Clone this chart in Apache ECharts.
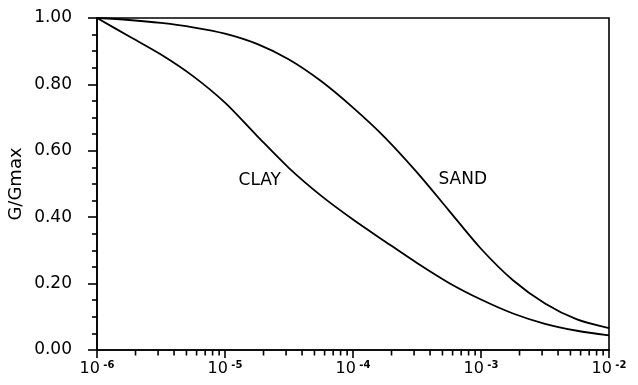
<!DOCTYPE html>
<html>
<head>
<meta charset="utf-8">
<script src="https://cdn.jsdelivr.net/npm/echarts@6/dist/echarts.min.js"></script>
<style>html,body{margin:0;padding:0;background:#fff;}#c{width:638px;height:385px;}</style>
</head>
<body>
<div id="c"></div>
<script>
// Shear strain (log scale), read at quarter-decade steps
const strain = [1e-6, 1.778e-6, 3.162e-6, 5.623e-6, 1e-5, 1.778e-5, 3.162e-5, 5.623e-5, 1e-4, 1.778e-4, 3.162e-4, 5.623e-4, 1e-3, 1.778e-3, 3.162e-3, 5.623e-3, 1e-2];
const clay   = [1.00, 0.945, 0.89, 0.825, 0.745, 0.645, 0.548, 0.465, 0.393, 0.327, 0.262, 0.202, 0.152, 0.11, 0.079, 0.058, 0.044];
const sand   = [1.00, 0.994, 0.985, 0.972, 0.953, 0.922, 0.875, 0.81, 0.73, 0.64, 0.535, 0.42, 0.305, 0.21, 0.14, 0.092, 0.066];
const xMinorTicks = [2e-6,3e-6,4e-6,5e-6,6e-6,7e-6,8e-6,9e-6,
                     2e-5,3e-5,4e-5,5e-5,6e-5,7e-5,8e-5,9e-5,
                     2e-4,3e-4,4e-4,5e-4,6e-4,7e-4,8e-4,9e-4,
                     2e-3,3e-3,4e-3,5e-3,6e-3,7e-3,8e-3,9e-3];
const curveLabels = [
  { name: 'CLAY', x: 1.87e-5, y: 0.51 },
  { name: 'SAND', x: 7.2e-4, y: 0.513 }
];
const yName = 'G/Gmax';

const chart = echarts.init(document.getElementById('c'));
const font = 'DejaVu Sans';
function expOf(v){
  return String(Math.round(Math.log10(v)));
}
chart.setOption({
  animation: false,
  backgroundColor: '#fff',
  grid: { left: 97, right: 29, top: 18, bottom: 35, show: true, borderColor: '#000', borderWidth: 1.6,
          containLabel: false, outerBoundsMode: 'none' },
  xAxis: {
    type: 'log', logBase: 10, min: 1e-6, max: 1e-2,
    axisLine: { show: true, lineStyle: { color: '#000', width: 1.6 } },
    axisTick: { show: true, length: 8, lineStyle: { color: '#000', width: 1.6 } },
    splitLine: { show: false },
    axisLabel: {
      margin: 10,
      formatter: function (v) { return '{a|10} {b|' + expOf(v) + '}'; },
      rich: {
        a: { fontFamily: font, fontSize: 16, color: '#000' },
        b: { fontFamily: font, fontSize: 10, color: '#000', fontWeight: 'bold', verticalAlign: 'top', padding: [0,0,8,0] }
      }
    }
  },
  yAxis: {
    type: 'value', min: 0, max: 1, interval: 0.2,
    name: yName, nameLocation: 'middle', nameGap: 72, nameMoveOverlap: false,
    nameTextStyle: { fontFamily: font, fontSize: 18, color: '#000' },
    axisLine: { show: true, lineStyle: { color: '#000', width: 1.6 } },
    axisTick: { show: true, length: 9, lineStyle: { color: '#000', width: 1.6 } },
    minorTick: { show: true, splitNumber: 4, length: 5, lineStyle: { color: '#000', width: 1.6 } },
    splitLine: { show: false },
    axisLabel: { fontFamily: font, fontSize: 17, color: '#000', margin: 25,
      formatter: function (v) { return v.toFixed(2); } }
  },
  series: [
    { name: 'CLAY', type: 'line', data: strain.map((x, i) => [x, clay[i]]), smooth: 0.3, symbol: 'none',
      lineStyle: { color: '#000', width: 1.8 } },
    { name: 'SAND', type: 'line', data: strain.map((x, i) => [x, sand[i]]), smooth: 0.3, symbol: 'none',
      lineStyle: { color: '#000', width: 1.8 } },
    { type: 'scatter', symbolSize: 0, itemStyle: { opacity: 1 },
      data: curveLabels.map(d => ({ value: [d.x, d.y], name: d.name })),
      label: { show: true, position: 'inside', formatter: '{b}', fontFamily: font, fontSize: 17,
               color: '#000', opacity: 1, textBorderWidth: 0 } },
    { type: 'scatter', clip: false, symbol: 'rect', symbolSize: [1.6, 5], symbolOffset: [0, 3],
      itemStyle: { color: '#000', opacity: 1 }, silent: true,
      data: xMinorTicks.map(v => [v, 0]) }
  ]
});
</script>
</body>
</html>
